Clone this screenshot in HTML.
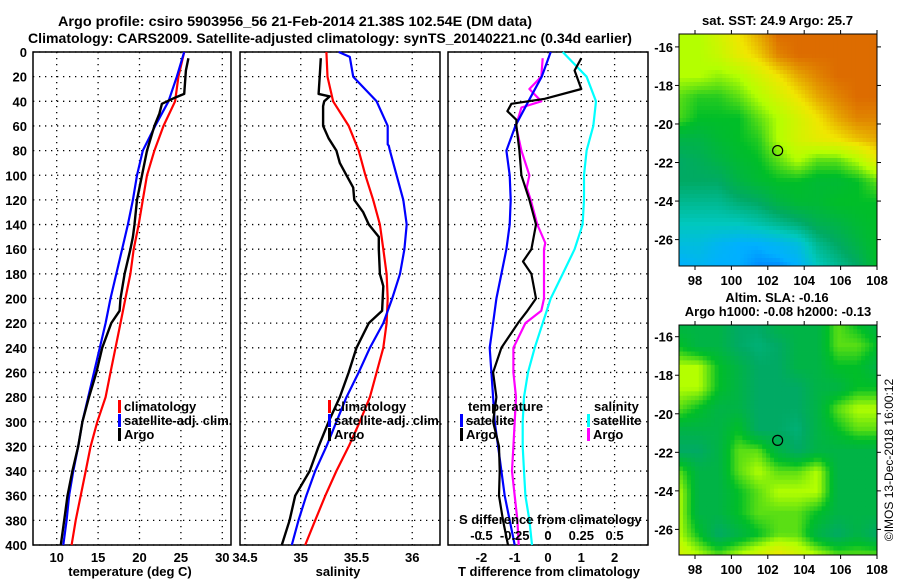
<!DOCTYPE html>
<html><head><meta charset="utf-8"><style>
body{margin:0;background:#fff}
svg{display:block;font-family:"Liberation Sans",sans-serif;font-weight:bold}
</style></head><body>
<svg id="fig" width="900" height="580" viewBox="0 0 900 580" xmlns="http://www.w3.org/2000/svg">
<g>
<text x="58" y="26" font-size="14" textLength="474" lengthAdjust="spacingAndGlyphs">Argo profile: csiro 5903956_56 21-Feb-2014 21.38S 102.54E (DM data)</text>
<text x="28" y="43" font-size="14" textLength="604" lengthAdjust="spacingAndGlyphs">Climatology: CARS2009. Satellite-adjusted climatology: synTS_20140221.nc (0.34d earlier)</text>
<text x="702" y="25" font-size="13" textLength="151" lengthAdjust="spacingAndGlyphs">sat. SST: 24.9 Argo: 25.7</text>
<text x="777" y="302" font-size="13" text-anchor="middle">Altim. SLA: -0.16</text>
<text x="778" y="316" font-size="13" text-anchor="middle">Argo h1000: -0.08 h2000: -0.13</text>
<text transform="translate(893,460) rotate(-90)" font-size="12" font-weight="normal" text-anchor="middle">©IMOS 13-Dec-2018 16:00:12</text>
</g>
<g id="plots"></g>
</svg>
<script>
// ---- data ----
const depthStd = [0,20,40,60,80,100,120,140,160,180,200,220,240,260,280,300,320,340,360,380,400];
const depthTicks = [0,20,40,60,80,100,120,140,160,180,200,220,240,260,280,300,320,340,360,380,400];
const climT = [25.4,24.7,24.3,22.9,21.8,20.9,20.4,19.9,19.3,18.9,18.3,17.7,17.1,16.5,15.9,14.9,14.1,13.5,12.9,12.3,11.8];
const satT = [25.4,24.5,23.5,21.9,20.4,19.7,19.2,18.6,17.9,17.2,16.5,15.9,15.2,14.5,13.8,13.1,12.6,12.0,11.5,11.2,10.8];
const argoDepth = [5,15,34,37,42,50,60,80,100,120,140,150,160,180,200,210,220,240,260,280,300,320,340,360,380,400];
const argoT = [25.9,25.6,25.4,24.3,22.7,22.4,21.8,20.9,20.3,19.7,19.4,19.2,18.9,18.2,17.7,17.6,16.6,15.5,14.8,13.9,13.1,12.6,11.9,11.3,10.9,10.5];
const tempTicks = [10,15,20,25,30];
const climS = [35.23,35.24,35.29,35.43,35.52,35.58,35.65,35.71,35.74,35.77,35.78,35.77,35.74,35.68,35.62,35.53,35.43,35.32,35.22,35.13,35.04];
const satSDepth = [0,4,20,40,60,75,76,80,100,120,140,160,180,200,220,240,260,280,300,320,340,360,380,400];
const satS = [35.34,35.44,35.47,35.68,35.78,35.78,35.79,35.80,35.86,35.92,35.95,35.93,35.89,35.82,35.74,35.62,35.52,35.41,35.32,35.23,35.13,35.05,34.98,34.92];
const argoSDepth = [5,20,34,36,40,44,60,70,80,90,100,110,120,130,140,150,160,180,190,210,220,240,260,280,300,320,340,360,380,400];
const argoS = [35.18,35.17,35.16,35.26,35.21,35.20,35.20,35.25,35.32,35.35,35.41,35.47,35.48,35.56,35.61,35.70,35.70,35.71,35.74,35.73,35.61,35.50,35.43,35.35,35.25,35.16,35.08,34.95,34.90,34.83];
const salTicks = [34.5,35,35.5,36];
const salTickLabels = ["34.5","35","35.5","36"];
const satTd = [0.08,-0.19,-0.59,-0.98,-1.25,-1.15,-1.12,-1.15,-1.25,-1.4,-1.55,-1.65,-1.75,-1.7,-1.65,-1.6,-1.5,-1.4,-1.3,-1.15,-1.0];
const argoTdDepth = [5,15,30,38,42,48,55,60,80,100,120,140,160,170,180,200,210,220,240,260,280,300,320,340,360,380,400];
const argoTd = [1.0,0.8,1.0,-0.1,-1.1,-1.22,-0.95,-0.95,-0.86,-0.8,-0.56,-0.36,-0.5,-0.75,-0.5,-0.36,-0.62,-0.9,-1.4,-1.65,-1.55,-1.65,-1.47,-1.45,-1.47,-1.35,-1.2];
const satSd = [0.11,0.29,0.36,0.34,0.29,0.27,0.27,0.26,0.20,0.11,0.02,-0.04,-0.10,-0.15,-0.18,-0.19,-0.19,-0.18,-0.17,-0.14,-0.12];
const argoSdDepth = [5,20,30,40,45,60,80,100,110,120,140,155,160,180,200,210,220,240,260,280,300,320,340,360,380,400];
const argoSd = [-0.04,-0.05,-0.14,-0.05,-0.2,-0.24,-0.2,-0.14,-0.16,-0.13,-0.08,-0.02,-0.03,-0.03,-0.03,-0.05,-0.17,-0.26,-0.26,-0.24,-0.25,-0.26,-0.27,-0.25,-0.23,-0.22];
const tdTicks = [-2,-1,0,1,2];
const sdTicks = [-0.5,-0.25,0,0.25,0.5];
const sdTickLabels = ["-0.5","-0.25","0","0.25","0.5"];
const lonTicks = [98,100,102,104,106,108];
const latTicks = [-16,-18,-20,-22,-24,-26];
const sstGrid = [
[5,5,5.5,6,6.5,7,7,7,7,7,7],
[5,5,5.3,5.8,6.2,6.8,7,7,7,7,7],
[5,5,4.8,5,5.5,6,6.5,6.8,7,7,7],
[4.5,4.2,4.2,4.5,5,5.5,6,6.5,6.8,7,7],
[4.4,4,4,4,4.5,5,5.5,6,6.5,6.8,6.8],
[3.5,3.5,3.8,4,4.2,5,5.5,5.8,6,6.3,6.5],
[3,3.2,3.5,3.8,4,4.5,5,4.5,4.5,5,5.8],
[3,3,3,3.5,3.8,4,4,3.8,3.8,4,4.5],
[2.5,2.5,2.5,2.8,3,3.5,3.8,3.8,4,4,4],
[2,2,2,2,2.2,2.5,2.8,3.3,3.5,3.8,4],
[1.5,1.5,1.2,1,1,1.2,1.5,2.5,3,3.5,4],
[1,1.2,1,1,0.8,0.8,1,2,2.5,3,4]];
const slaGrid = [
[3.5,3.5,3.5,3,3,3.5,3.5,3.5,4.5,4,3.5],
[4,3.5,3.5,3,2.8,3,3.5,3.5,4.5,4.5,4],
[5,5,4,3.5,3,3,3.5,3.5,4,4,3.5],
[5,5,4,3.5,3,3,3,3.5,3.5,4,4],
[4.5,4,3.5,3.5,3,3,3,3.5,4.5,5,5],
[3.5,3.5,3.5,4,3,3,2.8,3.5,4,4.5,4.5],
[3,3,3.5,4.5,4.5,3.5,3,3.5,3.5,3.5,3.5],
[4.5,3.5,3.5,4.5,5,4.5,4.5,5,3.5,3.5,3.5],
[5,3.5,3.5,4,4.5,5,5,5,3.5,3.5,3.5],
[5,3.5,3.5,4,4.5,4.5,4.5,4,3.5,3.5,3.5],
[5,4,3,3.5,4,4.5,4.5,3.5,3,3.5,3],
[5.5,5,4.5,5,5.5,6,5.5,5,4.5,4.5,4.5]];
const argoLon = 102.54, argoLat = -21.38;

// ---- helpers ----
const NS='http://www.w3.org/2000/svg';
const root=document.getElementById('plots');
function mk(tag,attrs,parent){const e=document.createElementNS(NS,tag);for(const k in attrs)e.setAttribute(k,attrs[k]);(parent||root).appendChild(e);return e;}
const yD = d => 52 + d*1.2325;
const xT = t => 56.7 + (t-10)*8.28;
const xS = s => 245 + (s-34.5)*111.5;
const xTd = t => 548 + t*33.3;
const xSd = s => 548 + s*133.2;

function panel(x0,x1,name,xticks,xfn,labels,drawLeftLabels){
  const g=mk('g',{});
  
  
  depthTicks.forEach(d=>{
    const l=mk('line',{x1:x0,x2:x1,y1:yD(d),y2:yD(d),stroke:'#000','stroke-width':1.3,'stroke-dasharray':'1.3 4.7'},g);
    
    
    if(drawLeftLabels){
      const t=mk('text',{x:27,y:yD(d)+5,'font-size':13,'text-anchor':'end'},g);
      t.textContent=d;
      
      
    }
  });
  xticks.forEach((v,i)=>{
    const l=mk('line',{x1:xfn(v),x2:xfn(v),y1:52,y2:545,stroke:'#000','stroke-width':1.3,'stroke-dasharray':'1.3 4.7'},g);
    
    
    const t=mk('text',{x:xfn(v),y:562,'font-size':13,'text-anchor':'middle'},g);
    t.textContent=labels?labels[i]:v;
    
    
  });
  const r=mk('rect',{x:x0,y:52,width:x1-x0,height:493,fill:'none',stroke:'#000','stroke-width':1.5},g);
  
  
  return g;
}
function series(g,depths,vals,xfn,color,w,name){
  const pts=vals.map((v,i)=>xfn(v).toFixed(1)+','+yD(depths[i]).toFixed(1)).join(' ');
  const p=mk('polyline',{points:pts,fill:'none',stroke:color,'stroke-width':w,'stroke-linejoin':'round'},g);
  
  
}
function legend(g,x,y,color,label,name){
  const r=mk('rect',{x:x,y:y-11,width:3,height:13,fill:color},g);
  
  
  const t=mk('text',{x:x+6,y:y,'font-size':13},g);
  t.textContent=label;
  
  
}
function label(g,x,y,txt,name,anchor){
  const t=mk('text',{x:x,y:y,'font-size':13,'text-anchor':anchor||'middle'},g);
  t.textContent=txt;
  
  
}

const g1=panel(33,231,'temperature-panel',tempTicks,xT,null,true);
series(g1,depthStd,climT,xT,'#ff0000',2.2,'temp-climatology-line');
series(g1,depthStd,satT,xT,'#0000ff',2.2,'temp-satellite-line');
series(g1,argoDepth,argoT,xT,'#000000',2.4,'temp-argo-line');
legend(g1,118,411,'#ff0000','climatology','legend-climatology');
legend(g1,118,425,'#0000ff','satellite-adj. clim.','legend-satellite-adj');
legend(g1,118,439,'#000000','Argo','legend-argo');
label(g1,130,576,'temperature (deg C)','x-axis-title-temperature');

const g2=panel(240,440,'salinity-panel',salTicks,xS,salTickLabels,false);
series(g2,depthStd,climS,xS,'#ff0000',2.2,'sal-climatology-line');
series(g2,satSDepth,satS,xS,'#0000ff',2.2,'sal-satellite-line');
series(g2,argoSDepth,argoS,xS,'#000000',2.4,'sal-argo-line');
legend(g2,328,411,'#ff0000','climatology','legend-climatology-s');
legend(g2,328,425,'#0000ff','satellite-adj. clim.','legend-satellite-adj-s');
legend(g2,328,439,'#000000','Argo','legend-argo-s');
label(g2,338,576,'salinity','x-axis-title-salinity');

const g3=panel(448,648,'difference-panel',tdTicks,xTd,null,false);
series(g3,depthStd,satSd,xSd,'#00ffff',2.2,'sdiff-satellite-line');
series(g3,argoSdDepth,argoSd,xSd,'#ff00ff',2.2,'sdiff-argo-line');
series(g3,depthStd,satTd,xTd,'#0000ff',2.2,'tdiff-satellite-line');
series(g3,argoTdDepth,argoTd,xTd,'#000000',2.2,'tdiff-argo-line');
label(g3,468,411,'temperature','legend-temperature-header','start');
legend(g3,460,425,'#0000ff','satellite','legend-t-satellite');
legend(g3,460,439,'#000000','Argo','legend-t-argo');
label(g3,594,411,'salinity','legend-salinity-header','start');
legend(g3,587,425,'#00ffff','satellite','legend-s-satellite');
legend(g3,587,439,'#ff00ff','Argo','legend-s-argo');
label(g3,459,524,'S difference from climatology','s-axis-title','start');
sdTicks.forEach((v,i)=>{
  const t=mk('text',{x:xSd(v),y:540,'font-size':13,'text-anchor':'middle'},g3);
  t.textContent=sdTickLabels[i];
  
  
});
label(g3,549,576,'T difference from climatology','x-axis-title-tdiff');

// Maps
const stops=[[0,0,255],[0,176,255],[0,200,190],[0,170,100],[0,190,40],[180,255,0],[240,230,0],[221,108,0],[255,0,0]];
function col(v){v=Math.max(0,Math.min(8,v));const i=Math.min(7,Math.floor(v)),f=v-i;const a=stops[i],b=stops[i+1];
  return 'rgb('+a.map((c,k)=>Math.round(c+(b[k]-c)*f)).join(',')+')';}
function interp(grid,r,c){const R=grid.length-1,C=grid[0].length-1;r=Math.max(0,Math.min(R,r));c=Math.max(0,Math.min(C,c));
  const r0=Math.min(R-1,Math.floor(r)),c0=Math.min(C-1,Math.floor(c)),fr=r-r0,fc=c-c0;
  return grid[r0][c0]*(1-fr)*(1-fc)+grid[r0][c0+1]*(1-fr)*fc+grid[r0+1][c0]*fr*(1-fc)+grid[r0+1][c0+1]*fr*fc;}
function map(name,grid,top,bottom,lat16y,ncol,nrow){
  const g=mk('g',{});
  
  
  const x0=679,x1=877;
  const lonX = lon => 695 + (lon-98)*18.2;
  const latY = lat => lat16y + (-16-lat)*19.27;
  const cw=(x1-x0)/ncol, ch=(bottom-top)/nrow;
  for(let i=0;i<nrow;i++)for(let j=0;j<ncol;j++){
    const v=interp(grid,(i+0.5)/nrow*(grid.length-1),(j+0.5)/ncol*(grid[0].length-1));
    mk('rect',{x:(x0+j*cw).toFixed(2),y:(top+i*ch).toFixed(2),width:(cw+0.4).toFixed(2),height:(ch+0.4).toFixed(2),fill:col(v)},g);
  }
  const fr=mk('rect',{x:x0,y:top,width:x1-x0,height:bottom-top,fill:'none',stroke:'#000','stroke-width':1},g);
  
  
  latTicks.forEach(l=>{
    mk('line',{x1:x0-4,x2:x0,y1:latY(l),y2:latY(l),stroke:'#000'},g);
    mk('line',{x1:x1,x2:x1+4,y1:latY(l),y2:latY(l),stroke:'#000'},g);
    const t=mk('text',{x:673,y:latY(l)+5,'font-size':13,'text-anchor':'end'},g);
    t.textContent=l;
    
    
  });
  lonTicks.forEach(l=>{
    mk('line',{x1:lonX(l),x2:lonX(l),y1:top-4,y2:top,stroke:'#000'},g);
    mk('line',{x1:lonX(l),x2:lonX(l),y1:bottom,y2:bottom+4,stroke:'#000'},g);
    const t=mk('text',{x:lonX(l),y:bottom+19,'font-size':13,'text-anchor':'middle'},g);
    t.textContent=l;
    
    
  });
  const c=mk('circle',{cx:lonX(argoLon),cy:latY(argoLat),r:5,fill:'none',stroke:'#000','stroke-width':1.2},g);
  
  
}
map('sst-map',sstGrid,34,266,46.9,55,58);
map('sla-map',slaGrid,325,555,336.7,50,52);
</script>
</body></html>
